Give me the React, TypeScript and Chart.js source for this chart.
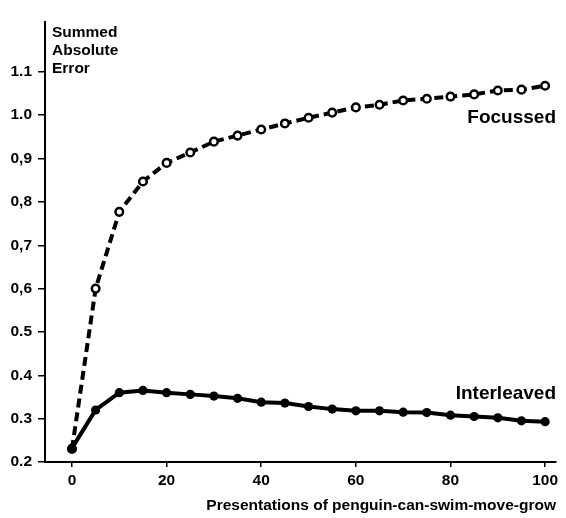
import { useEffect, useRef } from "react";
import { Chart, registerables } from "chart.js";

Chart.register(...registerables);

const xValues = [0, 5, 10, 15, 20, 25, 30, 35, 40, 45, 50, 55, 60, 65, 70, 75, 80, 85, 90, 95, 100];
const focussed = [0.23, 0.6, 0.777, 0.847, 0.89, 0.914, 0.939, 0.953, 0.967, 0.981, 0.994, 1.006, 1.018, 1.024, 1.034, 1.038, 1.043, 1.048, 1.057, 1.059, 1.068];
const interleaved = [0.232, 0.32, 0.36, 0.365, 0.36, 0.356, 0.352, 0.347, 0.338, 0.336, 0.328, 0.322, 0.318, 0.318, 0.315, 0.314, 0.308, 0.305, 0.302, 0.295, 0.293];

const yTickValues = [0.2, 0.3, 0.4, 0.5, 0.6, 0.7, 0.8, 0.9, 1.0, 1.1];
const yTickLabels = ["0.2", "0.3", "0.4", "0.5", "0,6", "0,7", "0,8", "0,9", "1.0", "1.1"];
const xTickValues = [0, 20, 40, 60, 80, 100];
const yTitleLines = ["Summed", "Absolute", "Error"];
const xTitle = "Presentations of penguin-can-swim-move-grow";
const seriesNames = ["Focussed", "Interleaved"];

const TEXT_FONT = '"Liberation Sans", Arial, sans-serif';
const TICK_FONT = '"Liberation Sans", Arial, sans-serif';

const labelPlugin = {
  id: "seriesLabels",
  afterDatasetsDraw(chart: any) {
    const { ctx, chartArea } = chart;
    const metaF = chart.getDatasetMeta(1);
    const metaI = chart.getDatasetMeta(0);
    ctx.save();
    ctx.fillStyle = "#000";
    ctx.textBaseline = "alphabetic";
    // y-axis title inside plot, top-left
    ctx.font = `bold 15.5px ${TEXT_FONT}`;
    ctx.textAlign = "left";
    yTitleLines.forEach((t, i) => {
      ctx.fillText(t, chartArea.left + 7, chartArea.top + 14.7 + i * 18);
    });
    // series labels
    ctx.font = `bold 19px ${TEXT_FONT}`;
    ctx.textAlign = "right";
    const lastF = metaF.data[metaF.data.length - 1];
    const lastI = metaI.data[metaI.data.length - 1];
    ctx.fillText(seriesNames[0], chartArea.right, lastF.y + 37.6);
    ctx.fillText(seriesNames[1], chartArea.right, lastI.y - 23);
    ctx.restore();
  },
};

export default function App() {
  const canvasRef = useRef<HTMLCanvasElement | null>(null);

  useEffect(() => {
    const canvas = canvasRef.current;
    if (!canvas) return;
    const chart = new Chart(canvas, {
      type: "line",
      data: {
        datasets: [
          {
            label: seriesNames[1],
            data: xValues.map((x, i) => ({ x, y: interleaved[i] })),
            borderColor: "#000",
            backgroundColor: "#000",
            borderWidth: 4,
            pointRadius: 4.6,
            pointBorderWidth: 0,
            pointBackgroundColor: "#000",
            tension: 0,
          },
          {
            label: seriesNames[0],
            data: xValues.map((x, i) => ({ x, y: focussed[i] })),
            borderColor: "#000",
            backgroundColor: "#fff",
            borderWidth: 4,
            borderDash: [9, 5],
            pointRadius: 3.8,
            pointBorderWidth: 2.5,
            pointBackgroundColor: "#fff",
            pointBorderColor: "#000",
            tension: 0,
          },
        ],
      },
      options: {
        animation: false,
        responsive: false,
        devicePixelRatio: 1,
        layout: { padding: { left: 0, right: 10, top: 22, bottom: 0 } },
        plugins: {
          legend: { display: false },
          tooltip: { enabled: false },
        },
        scales: {
          x: {
            type: "linear",
            min: -5.7,
            max: 102.3,
            afterBuildTicks: (scale: any) => {
              scale.ticks = xTickValues.map((v) => ({ value: v }));
            },
            afterFit: (scale: any) => {
              scale.height = 56;
            },
            ticks: {
              color: "#000",
              font: { family: TICK_FONT, size: 15.5, weight: "bold" },
              padding: 4,
              maxRotation: 0,
              autoSkip: false,
              callback: (v: any) => String(v),
            },
            grid: {
              display: true,
              drawOnChartArea: false,
              drawTicks: true,
              tickLength: 5,
              color: "#000",
              lineWidth: 1.5,
            },
            border: { display: true, color: "#000", width: 2 },
            title: {
              display: true,
              text: xTitle,
              align: "end",
              color: "#000",
              font: { family: TEXT_FONT, size: 15.5, weight: "bold" },
              padding: { top: 0, bottom: 3 },
            },
          },
          y: {
            type: "linear",
            min: 0.2,
            max: 1.215,
            afterBuildTicks: (scale: any) => {
              scale.ticks = yTickValues.map((v) => ({ value: v }));
            },
            afterFit: (scale: any) => {
              scale.width = 45;
            },
            ticks: {
              color: "#000",
              font: { family: TICK_FONT, size: 15.5, weight: "bold" },
              padding: 6,
              autoSkip: false,
              callback: (v: any) => {
                const idx = yTickValues.findIndex((t) => Math.abs(t - v) < 1e-6);
                return idx >= 0 ? yTickLabels[idx] : "";
              },
            },
            grid: {
              display: true,
              drawOnChartArea: false,
              drawTicks: true,
              tickLength: 7,
              color: "#000",
              lineWidth: 1.5,
            },
            border: { display: true, color: "#000", width: 2 },
          },
        },
      } as any,
      plugins: [labelPlugin],
    });
    return () => chart.destroy();
  }, []);

  return (
    <div style={{ position: "fixed", left: 0, top: 0, width: 566, height: 518, background: "#fff" }}>
      <canvas ref={canvasRef} width={566} height={518} style={{ display: "block" }} />
    </div>
  );
}
